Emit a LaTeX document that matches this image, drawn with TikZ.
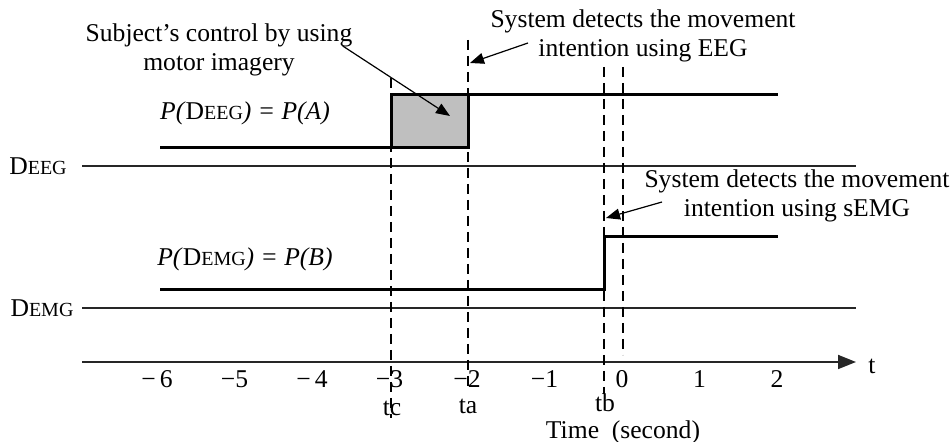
\documentclass[tikz,border=0pt]{standalone}
\usepackage{fontspec}
\setmainfont{Liberation Serif}
\usetikzlibrary{arrows.meta}

\begin{document}
\begin{tikzpicture}[x=0.5pt,y=-0.5pt]

\tikzset{
    base/.style={line width=0.9pt, black!85},
    signal/.style={line width=1.5pt},
    guide/.style={line width=0.8pt, dash pattern=on 5pt off 3pt},
    callout/.style={line width=0.6pt, -{Triangle[length=7pt,width=5.5pt]}},
    lbl/.style={inner sep=0pt, font=\fontsize{12.8}{14.5}\selectfont}
}

\useasboundingbox (0,0) rectangle (952,442);

%====================================================
% time axis and the two level lines
%====================================================
\coordinate (axL) at (82,362);
\coordinate (axR) at (856,362);
\draw[base, -{Triangle[length=9pt,width=7pt]}] (axL) -- (axR);
\node[lbl, anchor=west] (tname) at (868,366) {t};

\foreach \v/\s in {-6/−\,6,-5/−5,-4/−\,4,-3/−3,-2/−2,-1/−1,0/0,1/1,2/2}{
    \node[lbl] (tick\v) at ({622+77.5*\v},379) {\s};
}

\node[lbl] (deeg) at (38,166) {D{\fontsize{10}{10}\selectfont EEG}};
\node[lbl] (demg) at (42,308) {D{\fontsize{10}{10}\selectfont EMG}};
\draw[base] (82,166) -- (856,166);
\draw[base] (82,308) -- (856,308);

%====================================================
% dashed time markers
%====================================================
\draw[guide] (391,78) -- (391,418);
\draw[guide] (468,40) -- (468,388);
\draw[guide] (604,67) -- (604,394);
\draw[guide] (623,67) -- (623,355);

\node[lbl] (tc) at (392,408) {tc};
\node[lbl] (ta) at (468,406) {ta};
\node[lbl] (tb) at (605,403) {tb};
\node[lbl] (timelbl) at (623,432) {Time~ (second)};

%====================================================
% EEG and sEMG signals
%====================================================
\filldraw[signal, fill=gray!50] (391,148) rectangle (468,95);
\draw[signal] (160,148) -- (391,148);
\draw[signal] (468,95) -- (778,95);

\draw[signal] (160,290) -- (604,290) -- (604,237) -- (778,237);

\node[lbl] (peeg) at (245,113)
    {\textit{P(}D{\fontsize{10}{10}\selectfont EEG}\textit{) = P(A)}};
\node[lbl] (pemg) at (245,259)
    {\textit{P(}D{\fontsize{10}{10}\selectfont EMG}\textit{) = P(B)}};

%====================================================
% callouts
%====================================================
\node[lbl, align=center] (subj) at (219,50)
    {Subject’s control by using\\motor imagery};
\node[lbl, align=center] (sysEEG) at (643,36)
    {System detects the movement\\intention using EEG};
\node[lbl, align=center] (sysEMG) at (797,196)
    {System detects the movement\\intention using sEMG};

\coordinate (boxpt) at (450,116);
\coordinate (eegpt) at (470,63);
\coordinate (emgpt) at (606,218);

\draw[callout] ([xshift=-5pt,yshift=2pt]subj.east) -- (boxpt);
\draw[callout] (528,43) -- (eegpt);
\draw[callout] (662,202) -- (emgpt);

\end{tikzpicture}
\end{document}
